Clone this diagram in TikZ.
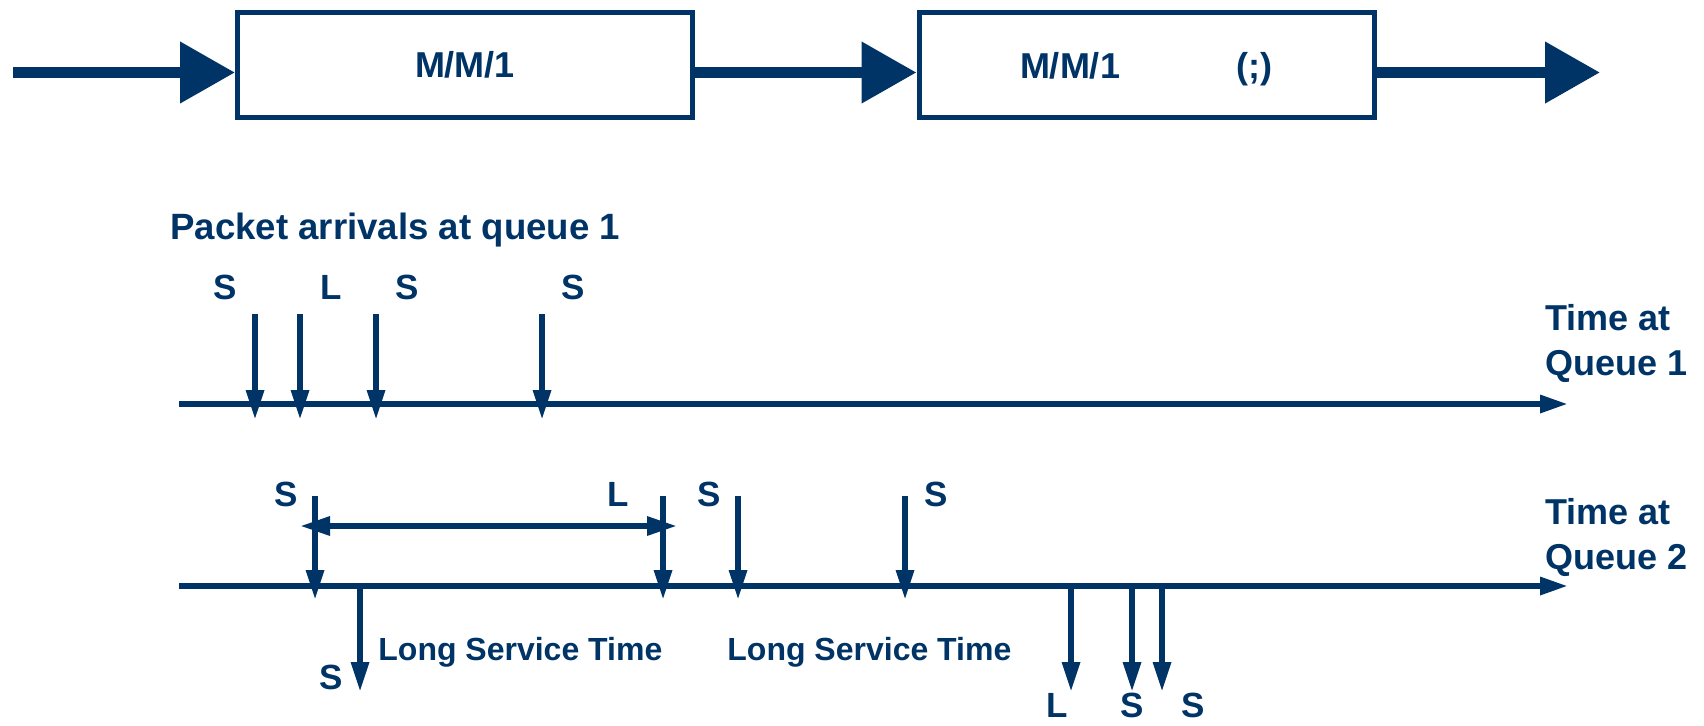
\documentclass[tikz,border=0pt]{standalone}
\usepackage{fontspec}
\setmainfont{Liberation Sans}
\usetikzlibrary{arrows.meta}
\definecolor{navy}{RGB}{0,51,102}

\tikzset{
  qbox/.style={rectangle, draw, line width=2.5pt, fill=white, inner sep=0pt, minimum width=227.5pt, minimum height=52.5pt, font=\fontsize{18}{22}\selectfont\bfseries},
  qtext/.style={inner sep=0pt, font=\fontsize{18}{22}\selectfont\bfseries},
  bigflow/.style={line width=5.5pt, -{Triangle[length=27.5pt,width=29.5pt]}},
  axisline/.style={line width=3pt, -{Triangle[length=14pt,width=8.5pt]}},
  pktarrow/.style={line width=3pt, -{Triangle[length=15pt,width=8.5pt]}},
  spanarrow/.style={line width=3pt, {Triangle[length=15pt,width=9pt]}-{Triangle[length=15pt,width=9pt]}},
  pktlabel/.style={inner sep=0pt, font=\fontsize{17.5}{21}\selectfont\bfseries},
  note/.style={inner sep=0pt, font=\fontsize{16}{20}\selectfont\bfseries},
  axislabel/.style={inner sep=0pt, align=left, anchor=north west, font=\fontsize{18}{22.5}\selectfont\bfseries}
}

\begin{document}
\begin{tikzpicture}[x=0.5pt, y=-0.5pt, color=navy]
    \useasboundingbox (0,0) rectangle (1704,725);

    % The two queues in tandem
    \node[qbox] (qone) at (465,65) {M/M/1};
    \node[qbox] (qtwo) at (1146.5,65) {};
    \node[qtext, anchor=base] (qtwoname) at (1070,78) {M/M/1};
    \node[qtext, anchor=base] (qtwoparam) at (1254,78) {(;)};
    \coordinate (src) at (13,72.5);
    \coordinate (sink) at (1600,72.5);

    \draw[bigflow] (src) -- (src -| qone.west);
    \draw[bigflow] (qone.east |- src) -- (qtwo.west |- src);
    \draw[bigflow] (qtwo.east |- src) -- (sink);

    % Time line of queue 1
    \node[anchor=base west, inner sep=0pt, font=\fontsize{18.3}{22}\selectfont\bfseries] (arrtitle) at (170,239) {Packet arrivals at queue 1};
    \coordinate (axonestart) at (179,404);
    \coordinate (axoneend) at (1568,404);
    \draw[axisline] (axonestart) -- (axoneend);
    \node[axislabel] (axonelabel) at (1545,304) {Time at\\Queue 1};

    \node[pktlabel] (la) at (225,287) {S};
    \node[pktlabel] (lb) at (331,287) {L};
    \node[pktlabel] (lc) at (407,287) {S};
    \node[pktlabel] (ld) at (573,287) {S};
    \coordinate (pa) at (255,314);  \coordinate (pae) at (255,420);
    \coordinate (pb) at (300,314);  \coordinate (pbe) at (300,420);
    \coordinate (pc) at (376,314);  \coordinate (pce) at (376,420);
    \coordinate (pd) at (542,314);  \coordinate (pde) at (542,420);
    \draw[pktarrow] (pa) -- (pae);
    \draw[pktarrow] (pb) -- (pbe);
    \draw[pktarrow] (pc) -- (pce);
    \draw[pktarrow] (pd) -- (pde);

    % Time line of queue 2
    \coordinate (axtwostart) at (179,586);
    \coordinate (axtwoend) at (1568,586);
    \draw[axisline] (axtwostart) -- (axtwoend);
    \node[axislabel] (axtwolabel) at (1545,498) {Time at\\Queue 2};

    \node[pktlabel] (ma) at (286,494) {S};
    \node[pktlabel] (mb) at (618,494) {L};
    \node[pktlabel] (mc) at (709,494) {S};
    \node[pktlabel] (md) at (936,494) {S};
    \coordinate (qa) at (315,496);  \coordinate (qae) at (315,600);
    \coordinate (qb) at (663,496);  \coordinate (qbe) at (663,600);
    \coordinate (qc) at (738,496);  \coordinate (qce) at (738,600);
    \coordinate (qd) at (905,496);  \coordinate (qde) at (905,600);
    \draw[pktarrow] (qa) -- (qae);
    \draw[pktarrow] (qb) -- (qbe);
    \draw[pktarrow] (qc) -- (qce);
    \draw[pktarrow] (qd) -- (qde);

    % Long service time of the L packet
    \coordinate (spanstart) at (300,526);
    \coordinate (spanend) at (677,526);
    \draw[spanarrow] (spanstart) -- (spanend);

    % Departures from queue 2
    \coordinate (da) at (360,586);   \coordinate (dae) at (360,692);
    \coordinate (db) at (1071,586);  \coordinate (dbe) at (1071,692);
    \coordinate (dc) at (1132,586);  \coordinate (dce) at (1132,692);
    \coordinate (dd) at (1162,586);  \coordinate (dde) at (1162,692);
    \draw[pktarrow] (da) -- (dae);
    \draw[pktarrow] (db) -- (dbe);
    \draw[pktarrow] (dc) -- (dce);
    \draw[pktarrow] (dd) -- (dde);
    \node[pktlabel] (na) at (331,677) {S};
    \node[pktlabel] (nb) at (1057,705) {L};
    \node[pktlabel] (nc) at (1132,705) {S};
    \node[pktlabel] (nd) at (1193,705) {S};

    \node[note, anchor=base west] (longone) at (378,660) {Long Service Time};
    \node[note, anchor=base west] (longtwo) at (727,660) {Long Service Time};
\end{tikzpicture}
\end{document}
